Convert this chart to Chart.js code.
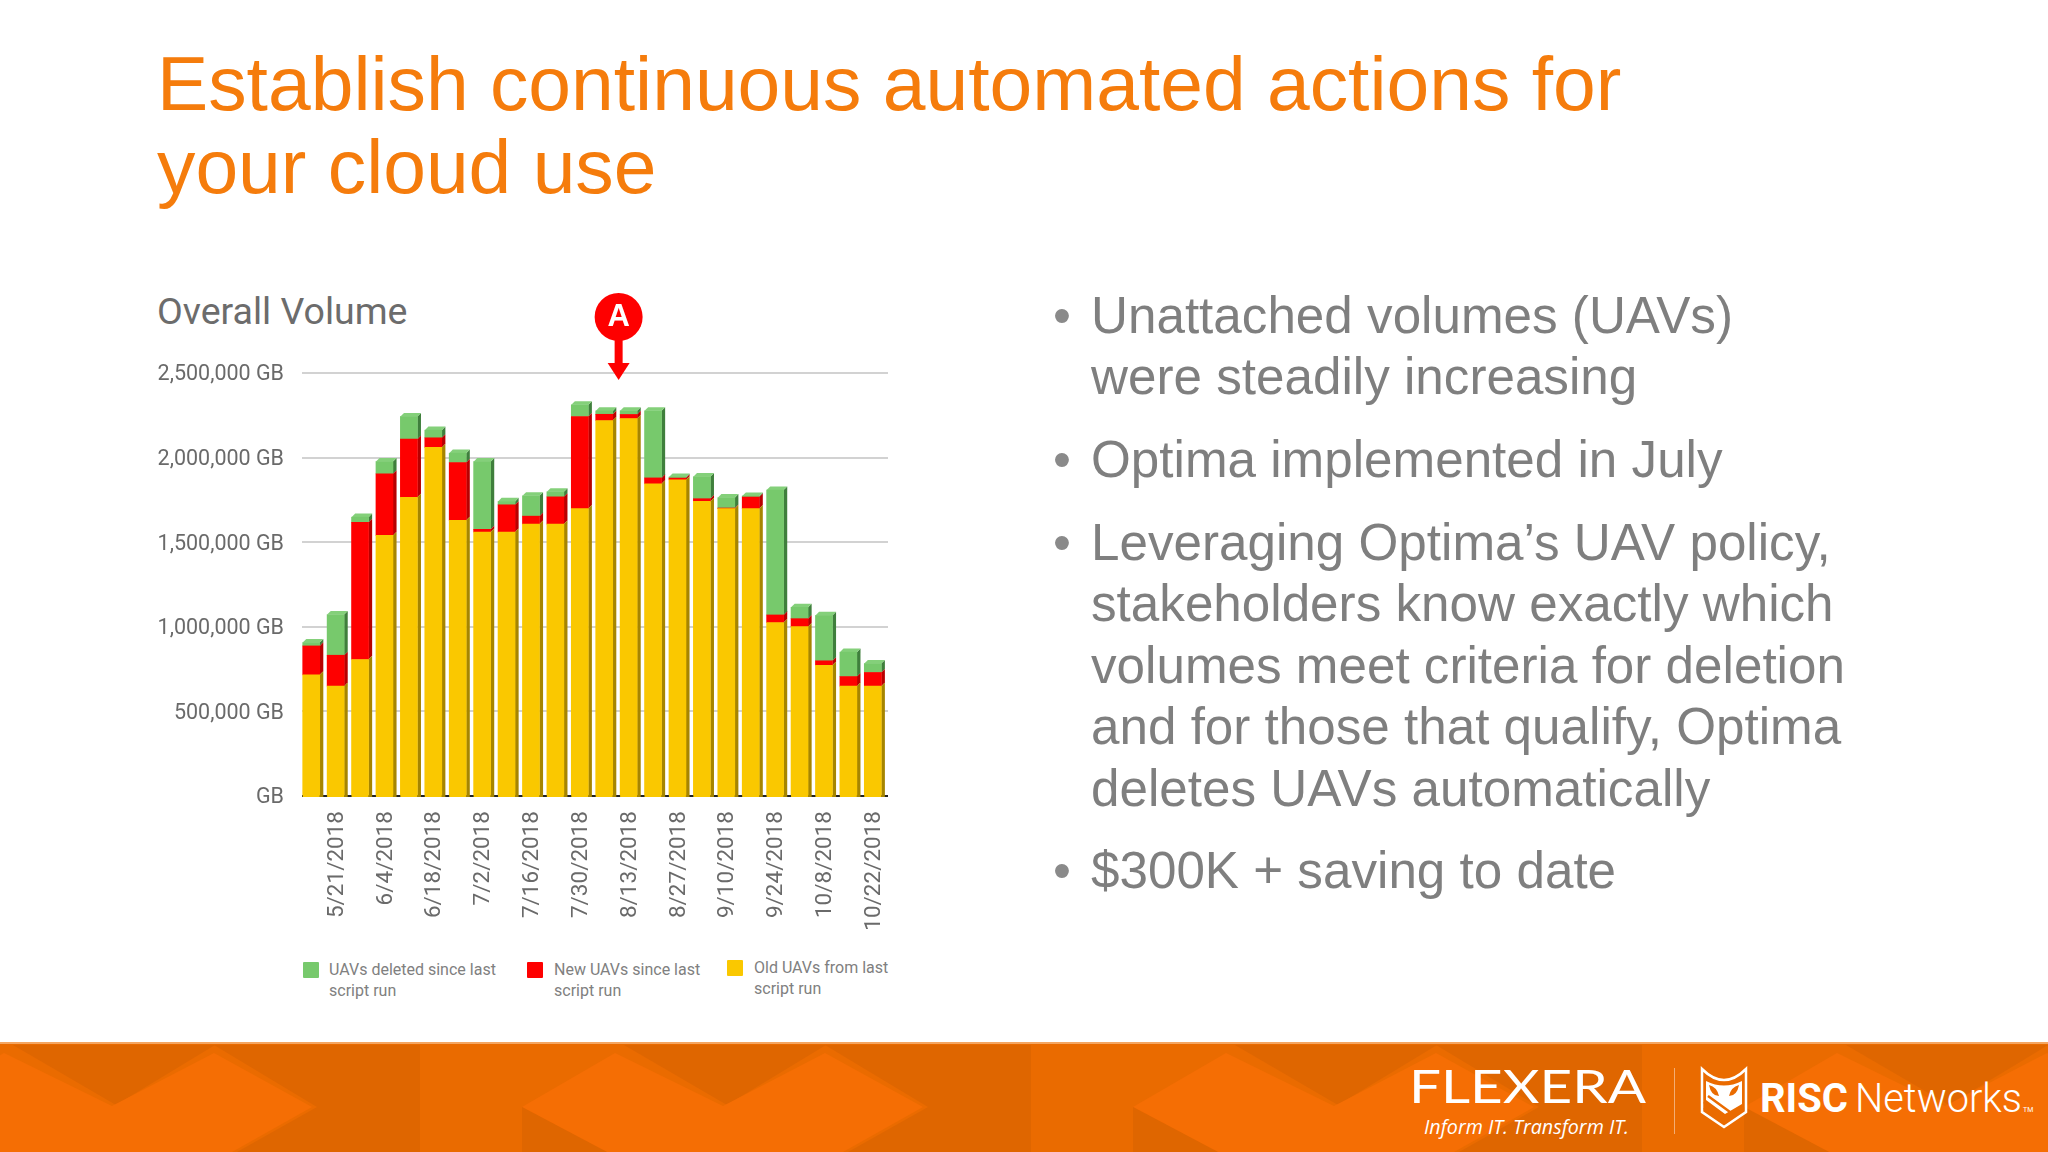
<!DOCTYPE html>
<html><head><meta charset="utf-8">
<script src="https://cdn.jsdelivr.net/npm/chart.js@4/dist/chart.umd.min.js"></script>
<style>
html,body{margin:0;padding:0;background:#fff;width:2048px;height:1152px;overflow:hidden;position:relative}
.abs{position:absolute}
#title{left:157px;top:42px;font:76.800px/82.500px "Liberation Sans",Arial,sans-serif;color:#f57c0c;white-space:nowrap}
#sub{left:157px;top:288px;font:37.500px/46px Roboto,sans-serif;color:#6c6c6c;white-space:nowrap}
.b{left:1091px;width:800px;font:51.200px/61.400px "Liberation Sans",Arial,sans-serif;color:#7f7f7f;white-space:nowrap}
.b:before{content:"•";position:absolute;left:-38px;color:#8a8a8a}
.leg{font:16px/20.500px Roboto,sans-serif;color:#808080;white-space:nowrap}
.sw{width:16px;height:16px;border-radius:1px}
canvas{position:absolute;left:0;top:0}
#band{left:0;top:1042px;width:2048px;height:110px}
</style></head><body>
<div class="abs" id="title">Establish continuous automated actions for<br>your cloud use</div>
<div class="abs" id="sub">Overall Volume</div>
<div class="abs b" style="top:285px">Unattached volumes (UAVs)<br>were steadily increasing</div>
<div class="abs b" style="top:429px">Optima implemented in July</div>
<div class="abs b" style="top:512px">Leveraging Optima’s UAV policy,<br>stakeholders know exactly which<br>volumes meet criteria for deletion<br>and for those that qualify, Optima<br>deletes UAVs automatically</div>
<div class="abs b" style="top:840px">$300K + saving to date</div>
<div id="legend"></div>
<canvas id="c" width="2048" height="1152"></canvas>
<svg class="abs" id="band" viewBox="0 0 2048 110" xmlns="http://www.w3.org/2000/svg">
<defs><g id="tile">
<polygon points="13,3 215,3 116,63" fill="#df6600"/>
<polygon points="214,3 420,3 420,110 237,110 317,65" fill="#df6600"/>
<polygon points="-89,65 4,11 112,64 214,11 312,65 232,110 -4,110" fill="#f56e04"/>
<polygon points="-89,65 -4,110 -89,110" fill="#df6600"/>
</g></defs>
<rect width="2048" height="110" fill="#ea6b00"/>
<use href="#tile"/><use href="#tile" x="611"/><use href="#tile" x="1222"/><use href="#tile" x="1833"/>
<rect width="2048" height="2" fill="#f4a662"/>
<text x="1409" y="61" font-family="Lato,Roboto,sans-serif" font-weight="400" font-size="47" fill="#fff" textLength="237" lengthAdjust="spacingAndGlyphs">FLEXERA</text>
<text x="1424" y="92" font-family="'Open Sans',Lato,sans-serif" font-style="italic" font-size="20" fill="#fff" textLength="205" lengthAdjust="spacingAndGlyphs">Inform IT. Transform IT.</text>
<rect x="1674" y="26" width="1" height="66" fill="#fff" opacity=".45"/>
<path d="M1702 27 Q1713 38 1724 38 Q1735 38 1746 27 V70 L1724 85 L1702 70 Z" fill="none" stroke="#fff" stroke-width="2.500"/>
<path d="M1706 39 Q1724 48 1742 39 V62 L1725 72 L1706 58 Z" fill="#fff"/>
<path d="M1709 43 Q1717 45 1719 54 Q1711 54 1709 43 Z M1739 43 Q1731 45 1729 54 Q1737 54 1739 43 Z" fill="#ea6b00"/>
<path d="M1704 60 L1724 76 M1704 66 L1722 80 M1708 54 L1730 70" stroke="#ea6b00" stroke-width="2.500" fill="none"/>
<text x="1760" y="70" font-family="Roboto,sans-serif" font-weight="700" font-size="41" fill="#fff" textLength="88" lengthAdjust="spacingAndGlyphs">RISC</text>
<text x="1855" y="70" font-family="Roboto,sans-serif" font-weight="300" font-size="41" fill="#fff" textLength="167" lengthAdjust="spacingAndGlyphs">Networks</text>
<text x="2023" y="70" font-family="Roboto,sans-serif" font-size="7" fill="#fff">TM</text>
</svg>
<script>
const categories = ["5/14/2018","5/21/2018","5/28/2018","6/4/2018","6/11/2018","6/18/2018","6/25/2018","7/2/2018","7/9/2018","7/16/2018","7/23/2018","7/30/2018","8/6/2018","8/13/2018","8/20/2018","8/27/2018","9/3/2018","9/10/2018","9/17/2018","9/24/2018","10/1/2018","10/8/2018","10/15/2018","10/22/2018"];
const oldUAVs = [716000,649000,807000,1540000,1765000,2060000,1629000,1560000,1560000,1607000,1607000,1698000,2219000,2231000,1845000,1869000,1741000,1698000,1698000,1025000,1001000,773000,649000,649000];
const newUAVs = [171000,183000,811000,364000,344000,57000,342000,16000,161000,47000,161000,545000,37000,24000,35000,10000,16000,4000,69000,45000,47000,26000,57000,81000];
const deletedUAVs = [20000,240000,30000,73000,134000,45000,55000,400000,20000,120000,30000,69000,20000,22000,397000,6000,130000,61000,6000,738000,67000,268000,144000,53000];
const yTicks = [0,500000,1000000,1500000,2000000,2500000];
const legendNames = [["UAVs deleted since last","script run"],["New UAVs since last","script run"],["Old UAVs from last","script run"]];

const GREEN="#77c96c", RED="#fe0000", YELLOW="#fac800";
const shade={[GREEN]:"#3f7f3c",[RED]:"#b80000",[YELLOW]:"#a68500"};
const topShade={[GREEN]:"#84d07a"};
const DX=3.6, DY=3.6, SHIFT=-3;

// legend (real text)
const legendBox=[[303,962,329,960,GREEN],[527,962,554,960,RED],[727,960,754,958,YELLOW]];
document.getElementById('legend').innerHTML=legendNames.map((n,i)=>{
  const p=legendBox[i];
  return `<div class="abs sw" style="left:${p[0]}px;top:${p[1]}px;background:${p[4]}"></div>`+
         `<div class="abs leg" style="left:${p[2]}px;top:${p[3]}px">${n.join('<br>')}</div>`;
}).join('');

function nudgeLabels(scale,dx,dy){
  if(scale.$nudged) return; scale.$nudged=true;
  const orig=scale._computeLabelItems;
  scale._computeLabelItems=function(ca){
    return orig.call(this,ca).map(it=>{
      const t=it.options.translation;
      it.options.translation=[t[0]+dx,t[1]+dy];
      return it;
    });
  };
}

const bars3d={id:'bars3d',
  beforeDatasetDraw(chart,args){
    const ctx=chart.ctx; ctx.save(); ctx.translate(SHIFT,0);
    const ds=chart.data.datasets[args.index];
    const last=args.index===chart.data.datasets.length-1;
    args.meta.data.forEach(el=>{
      const {x,y,base,width}=el.getProps(['x','y','base','width'],true);
      const r=x+width/2,l=x-width/2;
      ctx.fillStyle=shade[ds.backgroundColor];
      ctx.beginPath();ctx.moveTo(r,y);ctx.lineTo(r+DX,y-DY);
      if(args.index===0){ctx.lineTo(r+DX,base+2);ctx.lineTo(r,base+2);}
      else{ctx.lineTo(r+DX,base-DY);ctx.lineTo(r,base);}
      ctx.closePath();ctx.fill();
      if(args.index===0){ctx.fillStyle=ds.backgroundColor;ctx.fillRect(l,base,width,2);}
      if(last){
        ctx.fillStyle=topShade[ds.backgroundColor];
        ctx.beginPath();ctx.moveTo(l,y);ctx.lineTo(l+DX,y-DY);ctx.lineTo(r+DX,y-DY);ctx.lineTo(r,y);ctx.closePath();ctx.fill();
      }
    });
  },
  afterDatasetDraw(chart){chart.ctx.restore();}
};

const marker={id:'marker',
  afterDraw(chart){
    const ctx=chart.ctx,xs=chart.scales.x,ys=chart.scales.y;
    const cx=xs.getPixelForValue(13)-13, tip=ys.getPixelForValue(2500000)+7, cy=317;
    ctx.save();ctx.fillStyle=RED;
    ctx.beginPath();ctx.arc(cx,cy,24,0,Math.PI*2);ctx.fill();
    ctx.fillRect(cx-4,cy+20,8,tip-cy-30);
    ctx.beginPath();ctx.moveTo(cx-11,tip-17);ctx.lineTo(cx+11,tip-17);ctx.lineTo(cx,tip);ctx.closePath();ctx.fill();
    ctx.fillStyle="#fff";ctx.font='bold 31px "Liberation Sans",Arial,sans-serif';ctx.textAlign='center';ctx.textBaseline='middle';
    ctx.fillText('A',cx,cy);ctx.restore();
  }
};

new Chart(document.getElementById('c'),{
  type:'bar',
  data:{labels:categories,datasets:[
    {label:legendNames[2].join(' '),data:oldUAVs,backgroundColor:YELLOW},
    {label:legendNames[1].join(' '),data:newUAVs,backgroundColor:RED},
    {label:legendNames[0].join(' '),data:deletedUAVs,backgroundColor:GREEN}
  ]},
  options:{
    responsive:false,animation:false,devicePixelRatio:1,
    layout:{padding:{left:0,top:373,right:1160,bottom:0}},
    plugins:{legend:{display:false},title:{display:false},tooltip:{enabled:false}},
    datasets:{bar:{barThickness:17}},
    scales:{
      x:{stacked:true,
        grid:{display:false},border:{display:false},
        afterFit(s){s.height=356;nudgeLabels(s,-1.5,0);},
        ticks:{autoSkip:false,minRotation:90,maxRotation:90,padding:7,color:'#6a6a6a',font:{family:'Roboto',size:22.5},
          callback(v,i){return i%2===1?categories[i]:'';}}
      },
      y:{stacked:true,min:0,max:2500000,
        afterBuildTicks(s){s.ticks=yTicks.map(v=>({value:v}));},
        afterFit(s){s.width=302;nudgeLabels(s,0,2);},
        border:{display:false},
        grid:{drawTicks:false,lineWidth:2,color(c){return c.tick.value===0?'#222':'#d2d2d2';}},
        ticks:{padding:18,color:'#6a6a6a',font:{family:'Roboto',size:21.5},
          callback(v){return v===0?'GB':v.toLocaleString('en-US')+' GB';}}
      }
    }
  },
  plugins:[bars3d,marker]
});
</script>
</body></html>
